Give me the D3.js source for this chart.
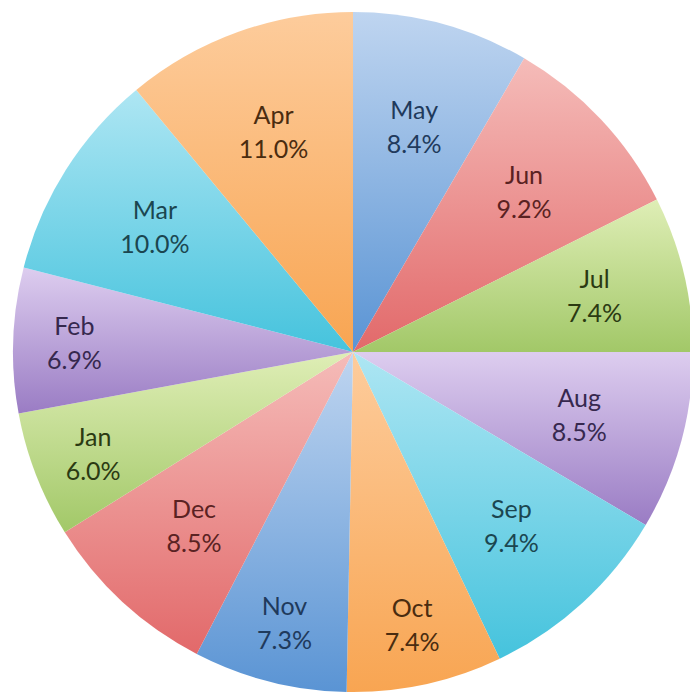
<!DOCTYPE html>
<html>
<head>
<meta charset="utf-8">
<script src="https://cdn.jsdelivr.net/npm/d3@7"></script>
<style>
  html, body { margin: 0; padding: 0; background: #fff; }
  svg { display: block; }
</style>
</head>
<body>
<svg id="chart"></svg>
<script>
// Monthly share, clockwise from 12 o'clock
const months = ["May", "Jun", "Jul", "Aug", "Sep", "Oct", "Nov", "Dec", "Jan", "Feb", "Mar", "Apr"];
const shares = [8.4, 9.2, 7.4, 8.5, 9.4, 7.4, 7.3, 8.5, 6.0, 6.9, 10.0, 11.0];

// Office-like palette: light top -> darker bottom, plus label ink
const palette = [
  { light: "#bfd5f0", dark: "#5a94d4", ink: "#1f3a5c" }, // blue
  { light: "#f5bcb9", dark: "#e2696a", ink: "#5a2222" }, // red
  { light: "#dfeeb6", dark: "#a2c868", ink: "#2b3a12" }, // green
  { light: "#ddcdef", dark: "#9a7cc4", ink: "#36284e" }, // purple
  { light: "#aee6f3", dark: "#45c3dd", ink: "#1b4650" }, // aqua
  { light: "#fdcc9c", dark: "#f8a552", ink: "#4a2c10" }  // orange
];

const width = 690, height = 696;
const cx = 353, cy = 352, radius = 340;

const svg = d3.select("#chart")
  .attr("width", width)
  .attr("height", height);

const defs = svg.append("defs");
palette.forEach((p, i) => {
  const grad = defs.append("linearGradient")
    .attr("id", "grad" + i)
    .attr("x1", 0).attr("y1", 0)
    .attr("x2", 0).attr("y2", 1);
  grad.append("stop").attr("offset", "0%").attr("stop-color", p.light);
  grad.append("stop").attr("offset", "100%").attr("stop-color", p.dark);
});

const pie = d3.pie().sort(null).value(d => d);
const arcs = pie(shares);

const arc = d3.arc().innerRadius(0).outerRadius(radius);

const g = svg.append("g").attr("transform", `translate(${cx},${cy})`);

g.selectAll("path.slice")
  .data(arcs)
  .join("path")
  .attr("class", "slice")
  .attr("d", arc)
  .attr("fill", (d, i) => `url(#grad${i % palette.length})`);

// "best fit"-ish: narrow slices push the label outward,
// less so on the right side where the text runs along the slice
const midAngle = d => (d.startAngle + d.endAngle) / 2;
const labelRadius = d => {
  if (d.data >= 8) return 0.69 * radius;
  return (Math.sin(midAngle(d)) > 0.5 ? 0.73 : 0.82) * radius;
};

const fmt = d3.format(".1f");
const labels = g.selectAll("text.label")
  .data(arcs)
  .join("text")
  .attr("class", "label")
  .attr("text-anchor", "middle")
  .attr("font-family", "Lato, 'Open Sans', sans-serif")
  .attr("font-size", "25px")
  .attr("fill", (d, i) => palette[i % palette.length].ink)
  .attr("transform", d => {
    const r = labelRadius(d);
    const a = midAngle(d);
    return `translate(${Math.sin(a) * r},${-Math.cos(a) * r})`;
  });

labels.append("tspan")
  .attr("x", 0)
  .attr("y", -7)
  .text((d, i) => months[i]);

labels.append("tspan")
  .attr("x", 0)
  .attr("y", 27)
  .text(d => fmt(d.data) + "%");
</script>
</body>
</html>
